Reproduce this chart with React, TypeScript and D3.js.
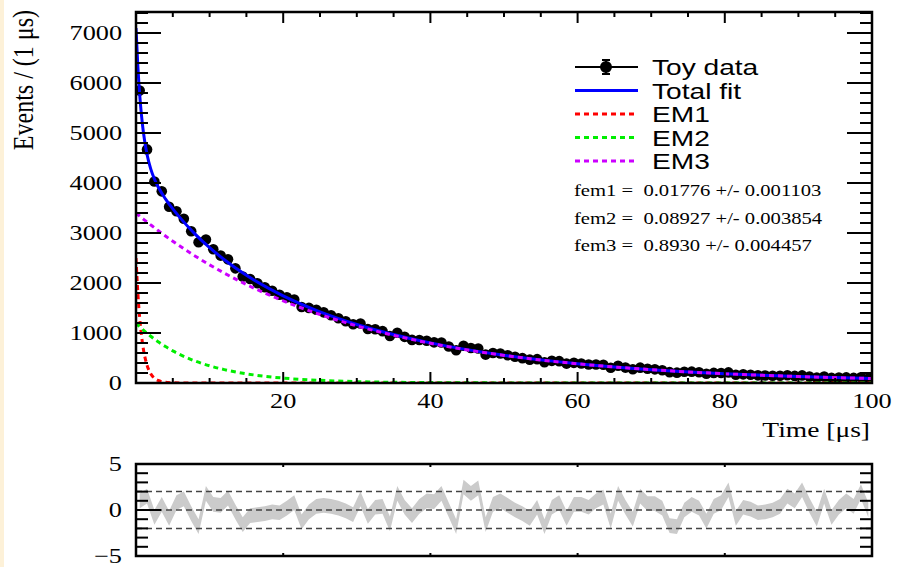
import React from "react";
import * as d3 from "d3";

// toy data: counts per 1 us bin (bin centres 0.5 ... 99.5)
const binCenters = d3.range(0.5, 100, 1);
const toyCounts = [
  5848, 4672, 4029, 3833, 3524, 3436, 3284, 3036, 2814, 2868,
  2675, 2548, 2473, 2293, 2128, 2080, 1996, 1915, 1845, 1765,
  1713, 1669, 1521, 1502, 1466, 1413, 1356, 1296, 1236, 1176,
  1189, 1081, 1074, 1037, 939, 1004, 923, 862, 860, 846,
  813, 809, 731, 656, 744, 700, 691, 568, 601, 589,
  556, 524, 497, 467, 477, 415, 443, 437, 388, 403,
  389, 369, 369, 364, 304, 346, 308, 275, 307, 284,
  273, 256, 217, 207, 226, 227, 214, 186, 202, 200,
  212, 164, 173, 164, 153, 150, 146, 146, 154, 142,
  152, 128, 107, 130, 102, 109, 112, 102, 114, 91,
];

// pulls shown in the lower panel
const pulls = [
  1.0, 1.5, -0.8, 0.6, -0.9, 0.8, 1.2, -0.4, -1.8, 1.8,
  0.6, 0.5, 1.3, -0.2, -1.6, -0.6, -0.5, -0.4, -0.2, -0.3,
  0.2, 0.8, -1.3, -0.2, 0.4, 0.5, 0.4, 0.2, -0.1, -0.5,
  1.2, -0.7, 0.3, 0.4, -1.5, 1.8, 0.3, -0.6, 0.4, 1.0,
  0.9, 1.8, 0.0, -1.8, 2.5, 1.8, 2.4, -1.6, 0.6, 1.0,
  0.5, 0.0, -0.4, -0.9, 0.3, -1.8, 0.3, 0.8, -0.9, 0.6,
  0.6, 0.3, 1.0, 1.4, -1.2, 1.8, 0.3, -1.0, 1.5, 0.7,
  0.7, 0.2, -1.7, -1.8, 0.0, 0.6, 0.2, -1.2, 0.4, 0.8,
  2.2, -0.9, 0.3, 0.1, -0.3, -0.2, 0.0, 0.4, 1.5, 1.0,
  2.2, 0.5, -1.0, 1.5, -0.8, 0.3, 1.0, 0.4, 2.0, 0.0,
];
const pullHalfWidth = 0.8;

// fit curves sampled along time
const curveT = [0, 0.25, 0.5, 0.75, 1, 1.5, 2, 2.5, 3, 4, 5, 6, 8, 10, 12, 15, 20, 25, 30, 40, 50, 60, 70, 80, 90, 100];
const totalFit = [7100, 6338, 5772, 5346, 5020, 4570, 4283, 4080, 3925, 3682, 3481, 3302, 2983, 2707, 2466, 2154, 1742, 1423, 1170, 802, 554, 385, 267, 185, 129, 90];
const em1 = [2500, 1806, 1306, 944, 682, 356, 186, 97, 51, 14, 4, 1, 0, 0, 0, 0, 0, 0, 0, 0, 0, 0, 0, 0, 0, 0];
const em2 = [1200, 1163, 1127, 1093, 1059, 995, 935, 878, 825, 728, 642, 567, 441, 344, 268, 184, 98, 53, 28, 8, 2, 1, 0, 0, 0, 0];
const em3 = [3400, 3369, 3339, 3309, 3279, 3219, 3162, 3105, 3049, 2940, 2835, 2734, 2542, 2363, 2198, 1970, 1643, 1370, 1142, 794, 552, 384, 267, 185, 129, 90];

const xTicks = [20, 40, 60, 80, 100];
const yTicks = [0, 1000, 2000, 3000, 4000, 5000, 6000, 7000];
const pullTicks = [-5, 0, 5];
const fitResults = [
  "fem1 =  0.01776 +/- 0.001103",
  "fem2 =  0.08927 +/- 0.003854",
  "fem3 =  0.8930 +/- 0.004457",
];

const W = 897;
const H = 567;
const L = 136, R = 872, T = 12, B = 383;
const PT = 464, PB = 556;
const SX = 1.25; // the picture is stretched sideways
const SERIF = "'Liberation Serif', 'DejaVu Serif', serif";
const SANS = "'Liberation Sans', Arial, sans-serif";

const Txt = ({ x, y, size, anchor = "start", family = SERIF, rotate = false, children }: any) => (
  <text
    transform={rotate ? `translate(${x},${y}) rotate(-90) scale(1,${SX})` : `translate(${x},${y}) scale(${SX},1)`}
    fontSize={size}
    fontFamily={family}
    textAnchor={anchor}
    fill="#000"
  >
    {children}
  </text>
);

export default function App() {
  const x = d3.scaleLinear().domain([0, 100]).range([L, R]);
  const y = d3.scaleLinear().domain([0, 7420]).range([B, T]);
  const yp = d3.scaleLinear().domain([-5, 5]).range([PB, PT]);

  const line = (vals: number[]) =>
    d3.line<number>().x((_, i) => x(curveT[i])).y((d) => y(d)).curve(d3.curveMonotoneX)(vals) || "";

  const band = d3
    .area<number>()
    .x((_, i) => x(binCenters[i]))
    .y0((d) => yp(d - pullHalfWidth))
    .y1((d) => yp(d + pullHalfWidth))(pulls) || "";

  const yMinor = d3.range(0, 7401, 200);
  const xMinor = d3.range(5, 100, 5);
  const pMinor = d3.range(-4, 5, 1);

  const legendRows = [
    { label: "Toy data", kind: "data" },
    { label: "Total fit", color: "#0000ff", dash: "" },
    { label: "EM1", color: "#ff0000", dash: "5,4" },
    { label: "EM2", color: "#00ee00", dash: "5,4" },
    { label: "EM3", color: "#cc00ff", dash: "5,4" },
  ];

  return (
    <div style={{ position: "absolute", left: 0, top: 0 }}>
      <svg width={W} height={H} style={{ display: "block", background: "#fff" }}>
        <defs>
          <clipPath id="mainClip">
            <rect x={L} y={T} width={R - L} height={B - T} />
          </clipPath>
        </defs>
        <rect x={0} y={0} width={4} height={H} fill="#fdf1d8" />

        {/* data and fit curves */}
        <g clipPath="url(#mainClip)" fill="none">
          {toyCounts.map((d, i) => (
            <circle key={i} cx={x(binCenters[i])} cy={y(d)} r={5.3} fill="#000" />
          ))}
          <path d={line(totalFit)} stroke="#0000ff" strokeWidth={3} />
          <path d={line(em1)} stroke="#ff0000" strokeWidth={3} strokeDasharray="5,4" />
          <path d={line(em2)} stroke="#00ee00" strokeWidth={3} strokeDasharray="5,4" />
          <path d={line(em3)} stroke="#cc00ff" strokeWidth={3} strokeDasharray="5,4" />
        </g>

        {/* main frame and ticks */}
        <g stroke="#000" strokeWidth={2}>
          {yMinor.map((v) => {
            const len = v % 1000 === 0 ? 25 : 12;
            return (
              <g key={v}>
                <line x1={L} x2={L + len} y1={y(v)} y2={y(v)} />
                <line x1={R} x2={R - len} y1={y(v)} y2={y(v)} />
              </g>
            );
          })}
          {xMinor.map((v) => {
            const len = v % 20 === 0 ? 11 : 5;
            return (
              <g key={v}>
                <line x1={x(v)} x2={x(v)} y1={B} y2={B - len} />
                <line x1={x(v)} x2={x(v)} y1={T} y2={T + len} />
              </g>
            );
          })}
          <rect x={L} y={T} width={R - L} height={B - T} fill="none" strokeWidth={2.5} />
        </g>

        {yTicks.map((v) => (
          <Txt key={v} x={122} y={y(v) + 7} size={21} anchor="end">{v}</Txt>
        ))}
        {xTicks.map((v) => (
          <Txt key={v} x={x(v)} y={408} size={21} anchor="middle">{v}</Txt>
        ))}
        <Txt x={870} y={437} size={22} anchor="end">Time [μs]</Txt>
        <Txt x={33} y={T - 2} size={24} anchor="end" rotate>Events / (1 μs)</Txt>

        {/* legend */}
        {legendRows.map((r: any, i) => {
          const cy = 67 + i * 23.5;
          return (
            <g key={r.label}>
              {r.kind === "data" ? (
                <g stroke="#000" strokeWidth={2}>
                  <line x1={575} x2={638} y1={cy} y2={cy} />
                  <line x1={606} x2={606} y1={cy - 7} y2={cy + 7} />
                  <line x1={602} x2={610} y1={cy - 7} y2={cy - 7} />
                  <line x1={602} x2={610} y1={cy + 7} y2={cy + 7} />
                  <circle cx={606} cy={cy} r={5} fill="#000" />
                </g>
              ) : (
                <line x1={575} x2={638} y1={cy} y2={cy} stroke={r.color} strokeWidth={3} strokeDasharray={r.dash} />
              )}
              <Txt x={652} y={cy + 8} size={22.5} family={SANS}>{r.label}</Txt>
            </g>
          );
        })}
        {fitResults.map((s, i) => (
          <Txt key={s} x={574} y={196 + i * 27.5} size={16.5} family={SERIF}>
            <tspan style={{ whiteSpace: "pre" }}>{s}</tspan>
          </Txt>
        ))}

        {/* pull panel */}
        <path d={band} fill="#cbcbcb" />
        <g stroke="#444" strokeWidth={1.5} strokeDasharray="6,4">
          {[-2, 0, 2].map((v) => (
            <line key={v} x1={L} x2={R} y1={yp(v)} y2={yp(v)} />
          ))}
        </g>
        <g stroke="#000" strokeWidth={2}>
          {pMinor.map((v) => {
            const len = v === 0 ? 25 : 12;
            return (
              <g key={v}>
                <line x1={L} x2={L + len} y1={yp(v)} y2={yp(v)} />
                <line x1={R} x2={R - len} y1={yp(v)} y2={yp(v)} />
              </g>
            );
          })}
          {xTicks.map((v) => (
            <g key={v}>
              <line x1={x(v)} x2={x(v)} y1={PB} y2={PB - 3} />
              <line x1={x(v)} x2={x(v)} y1={PT} y2={PT + 3} />
            </g>
          ))}
          <rect x={L} y={PT} width={R - L} height={PB - PT} fill="none" strokeWidth={2.5} />
        </g>
        {pullTicks.map((v) => (
          <Txt key={v} x={122} y={yp(v) + 7} size={21} anchor="end">{v < 0 ? `−${-v}` : v}</Txt>
        ))}
      </svg>
    </div>
  );
}
